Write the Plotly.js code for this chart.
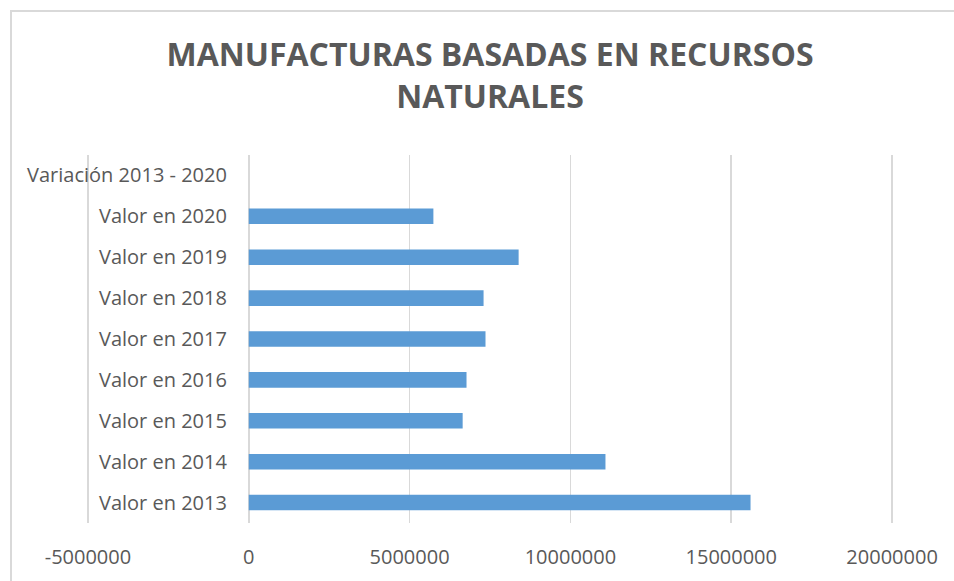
<!DOCTYPE html>
<html>
<head>
<meta charset="utf-8">
<script src="https://cdn.plot.ly/plotly-3.0.1.min.js"></script>
<style>
  html, body { margin: 0; padding: 0; background: #fff; }
  #wrap { position: absolute; left: 0; top: 0; width: 954px; height: 581px; }
  #frame { position: absolute; left: 10px; top: 10px; width: 960px; height: 600px;
           border-left: 2px solid #d9d9d9; border-top: 2px solid #d9d9d9; box-sizing: border-box; pointer-events: none; }
  #chart { position: absolute; left: 0; top: 0; width: 954px; height: 581px; }
</style>
</head>
<body>
<div id="wrap">
  <div id="chart"></div>
  <div id="frame"></div>
</div>
<script>
const categories = [
  "Valor en 2013", "Valor en 2014", "Valor en 2015", "Valor en 2016",
  "Valor en 2017", "Valor en 2018", "Valor en 2019", "Valor en 2020",
  "Variación 2013 - 2020"
];
const values = [15600000, 11090000, 6650000, 6770000, 7360000, 7300000, 8390000, 5740000, -0.63];
const xTickVals = [-5000000, 0, 5000000, 10000000, 15000000, 20000000];
const xTickText = ["-5000000", "0", "5000000", "10000000", "15000000", "20000000"];
const titleText = "MANUFACTURAS BASADAS EN RECURSOS<br>NATURALES";

const textColor = "#595959";
const gridColor = "#d9d9d9";

const trace = {
  type: "bar",
  orientation: "h",
  y: categories,
  x: values,
  marker: { color: "#5B9BD5" },
  hoverinfo: "x+y"
};

const layout = {
  width: 954,
  height: 581,
  paper_bgcolor: "#ffffff",
  plot_bgcolor: "#ffffff",
  margin: { l: 86, r: 60, t: 155, b: 58 },
  showlegend: false,
  bargap: 0.62,
  font: { family: "Open Sans, sans-serif", color: textColor, size: 20 },
  title: {
    text: titleText,
    font: { family: "Open Sans, sans-serif", size: 32, color: textColor, weight: "bold" },
    x: 0.5, xref: "paper", xanchor: "center",
    y: 1 - 66 / 581, yref: "container", yanchor: "top"
  },
  xaxis: {
    range: [-5060000, 20060000],
    tickvals: xTickVals,
    ticktext: xTickText,
    showgrid: true,
    gridcolor: gridColor,
    gridwidth: 1.5,
    zeroline: true,
    zerolinecolor: gridColor,
    zerolinewidth: 1.5,
    showline: false,
    ticks: "outside",
    ticklen: 16,
    tickcolor: "rgba(0,0,0,0)",
    tickfont: { size: 20, color: textColor },
    fixedrange: true
  },
  yaxis: {
    type: "category",
    categoryorder: "array",
    categoryarray: categories,
    anchor: "free",
    position: 0.2016,
    showgrid: false,
    zeroline: false,
    showline: false,
    ticks: "outside",
    ticklen: 18,
    tickcolor: "rgba(0,0,0,0)",
    tickfont: { size: 20, color: textColor },
    fixedrange: true
  }
};

Plotly.newPlot("chart", [trace], layout, { displayModeBar: false, staticPlot: true });
</script>
</body>
</html>
